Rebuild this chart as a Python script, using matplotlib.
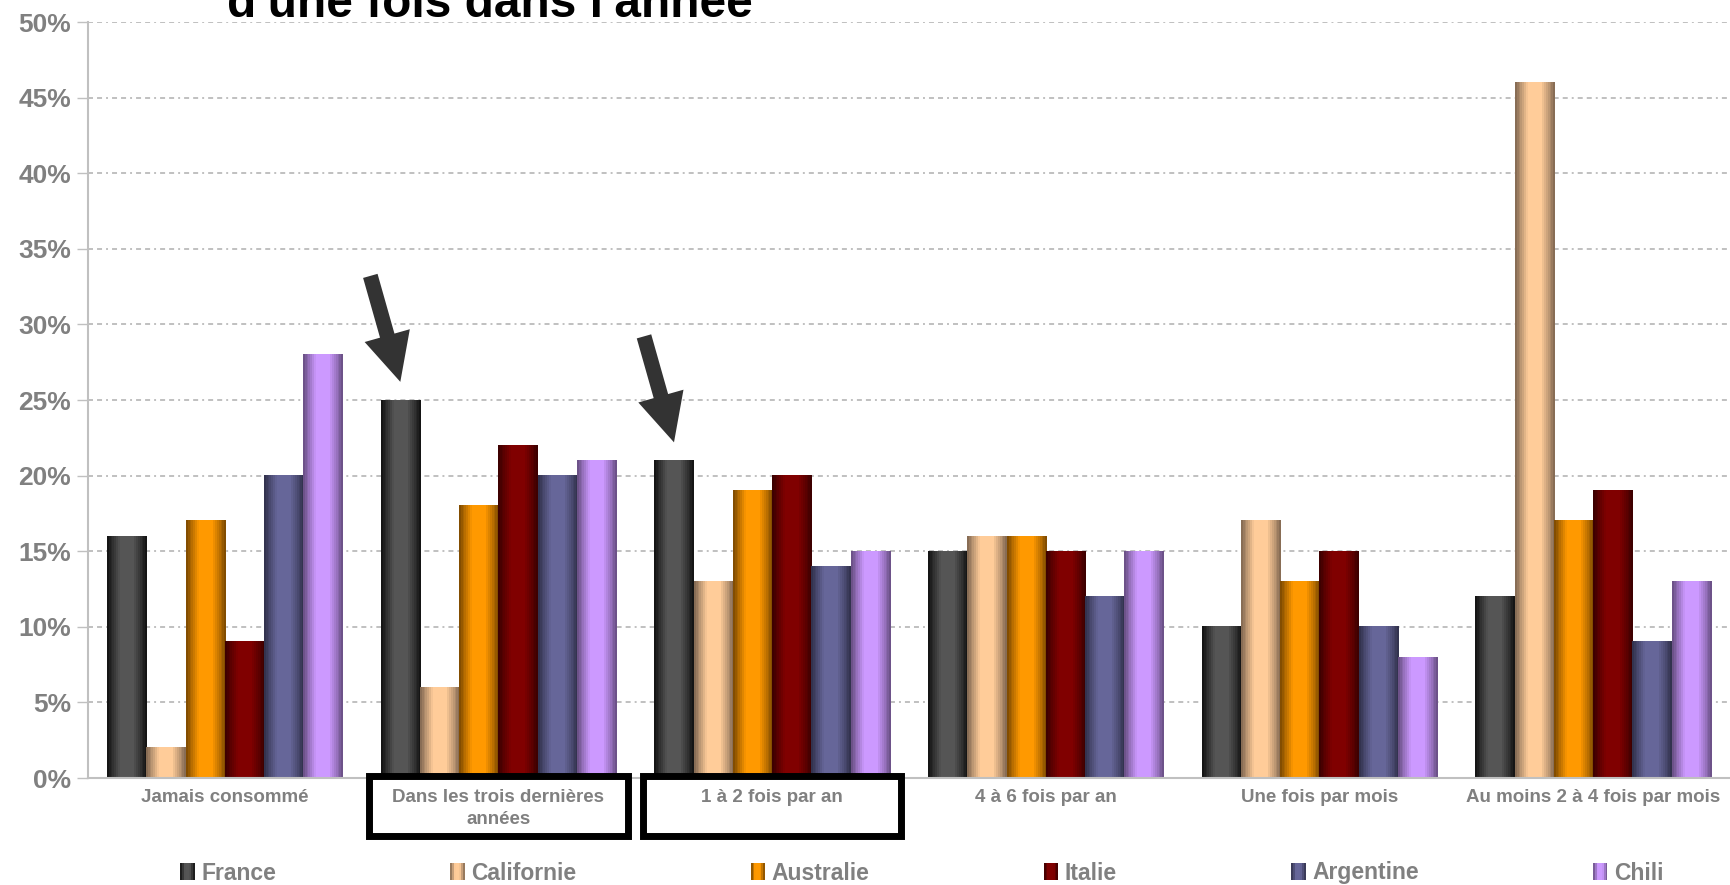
import matplotlib
matplotlib.use('Agg')

import matplotlib.pyplot as plt
import numpy as np
from matplotlib.colors import to_rgb
from matplotlib.legend_handler import HandlerBase
from matplotlib.patches import Patch, Rectangle
from matplotlib.transforms import blended_transform_factory

plt.rcParams['font.family'] = ['Liberation Sans', 'DejaVu Sans']
plt.rcParams['lines.scale_dashes'] = False

categories = ['Jamais consommé', 'Dans les trois dernières\nannées', '1 à 2 fois par an',
              '4 à 6 fois par an', 'Une fois par mois', 'Au moins 2 à 4 fois par mois']
countries = ['France', 'Californie', 'Australie', 'Italie', 'Argentine', 'Chili']

france = [16, 25, 21, 15, 10, 12]
californie = [2, 6, 13, 16, 17, 46]
australie = [17, 18, 19, 16, 13, 17]
italie = [9, 22, 20, 15, 15, 19]
argentine = [20, 20, 14, 12, 10, 9]
chili = [28, 21, 15, 15, 8, 13]
series = [france, californie, australie, italie, argentine, chili]

# (middle colour, edge colour) of each cylinder-like bar
mid_colors = ['#555555', '#ffcc99', '#ff9900', '#800000', '#666699', '#cc99ff']
edge_colors = ['#111111', '#7f6650', '#7a4800', '#3a0000', '#30304a', '#664d80']

highlighted = [1, 2]   # categories with a box and an arrow

GRAY = '#808080'
LIGHT = '#c0c0c0'


def gradient_row(mid, edge, n=22):
    t = (np.arange(n) + 0.5) / n
    w = np.interp(t, [0, 0.08, 0.2, 0.32, 0.66, 0.8, 0.92, 1.0],
                  [0.0, 0.25, 0.6, 1.0, 1.0, 0.6, 0.25, 0.0])
    mid, edge = np.array(to_rgb(mid)), np.array(to_rgb(edge))
    return edge + (mid - edge) * w[:, None]


class GradientHandler(HandlerBase):
    def create_artists(self, legend, orig_handle, xdescent, ydescent,
                       width, height, fontsize, trans):
        cols = gradient_row(orig_handle.get_facecolor(), orig_handle.get_edgecolor(), n=8)
        step = width / len(cols)
        return [Rectangle((-xdescent + k * step, -ydescent), step * 1.02, height,
                          facecolor=c, edgecolor='none', transform=trans)
                for k, c in enumerate(cols)]


fig = plt.figure(figsize=(17.3, 8.85), dpi=100)
ax = fig.add_axes([88 / 1730, 107 / 885, 1 - 88 / 1730, 756 / 885])

x = np.arange(len(categories))
width = 0.1435
for i, vals in enumerate(series):
    pos = x + (i - 2.5) * width
    bars = ax.bar(pos, vals, width, color='none', edgecolor='none')
    row = gradient_row(mid_colors[i], edge_colors[i])[None, :, :]
    for rect in bars:
        x0, h = rect.get_x(), rect.get_height()
        ax.imshow(row, extent=[x0, x0 + width, 0, h], aspect='auto',
                  interpolation='nearest', zorder=2)

ax.set_xlim(-0.5, len(categories) - 0.5)
ax.set_ylim(0, 50)

yt = np.arange(0, 55, 5)
ax.set_yticks(yt)
ax.set_yticklabels([f'{v}%' for v in yt], fontsize=19, fontweight='bold', color=GRAY)
ax.tick_params(axis='y', length=8, width=1, color=LIGHT, pad=4)
ax.set_xticks(x)
ax.set_xticklabels(categories, fontsize=13.5, fontweight='bold', color=GRAY,
                   linespacing=1.4)
ax.tick_params(axis='x', length=0, pad=8)

ax.yaxis.grid(True, color=LIGHT, linewidth=1.4,
              linestyle=(0, (3.6, 2.9, 3.6, 2.9, 1.4, 2.9)))
ax.set_axisbelow(True)
for side in ['top', 'right']:
    ax.spines[side].set_visible(False)
for side in ['left', 'bottom']:
    ax.spines[side].set_color(LIGHT)
    ax.spines[side].set_linewidth(1.5)

# boxes round the highlighted category labels, arrows onto the France bars
trans = blended_transform_factory(ax.transData, ax.transAxes)
for c in highlighted:
    ax.add_patch(Rectangle((c - 0.472, -0.0767), 0.944, 0.0793, transform=trans,
                           fill=False, edgecolor='black', linewidth=5,
                           clip_on=False, zorder=5))
    ax.annotate('', xy=(c - 2.5 * width, france[c] + 1.2), xycoords='data',
                xytext=(-21.6, 76.3), textcoords='offset points',
                arrowprops=dict(arrowstyle='simple,head_length=3.46,head_width=3.38,tail_width=1.08',
                                mutation_scale=10, facecolor='#333333',
                                edgecolor='none', shrinkA=0, shrinkB=0))

fig.text(227 / 1730, (885 - 17) / 885, "d'une fois dans l'année", fontsize=34.5,
         fontweight='bold', color='black', ha='left', va='baseline')

handles = [Patch(facecolor=m, edgecolor=e, label=n)
           for m, e, n in zip(mid_colors, edge_colors, countries)]
leg = fig.legend(handles=handles, loc='center', ncol=6, frameon=False,
                 bbox_to_anchor=(922 / 1730, 12 / 885), borderpad=0,
                 handlelength=0.62, handleheight=0.7, handletextpad=0.3,
                 columnspacing=7.6, handler_map={Patch: GradientHandler()},
                 prop={'size': 16.5, 'weight': 'bold'})
for t in leg.get_texts():
    t.set_color(GRAY)

plt.savefig('out.png', dpi=100)
